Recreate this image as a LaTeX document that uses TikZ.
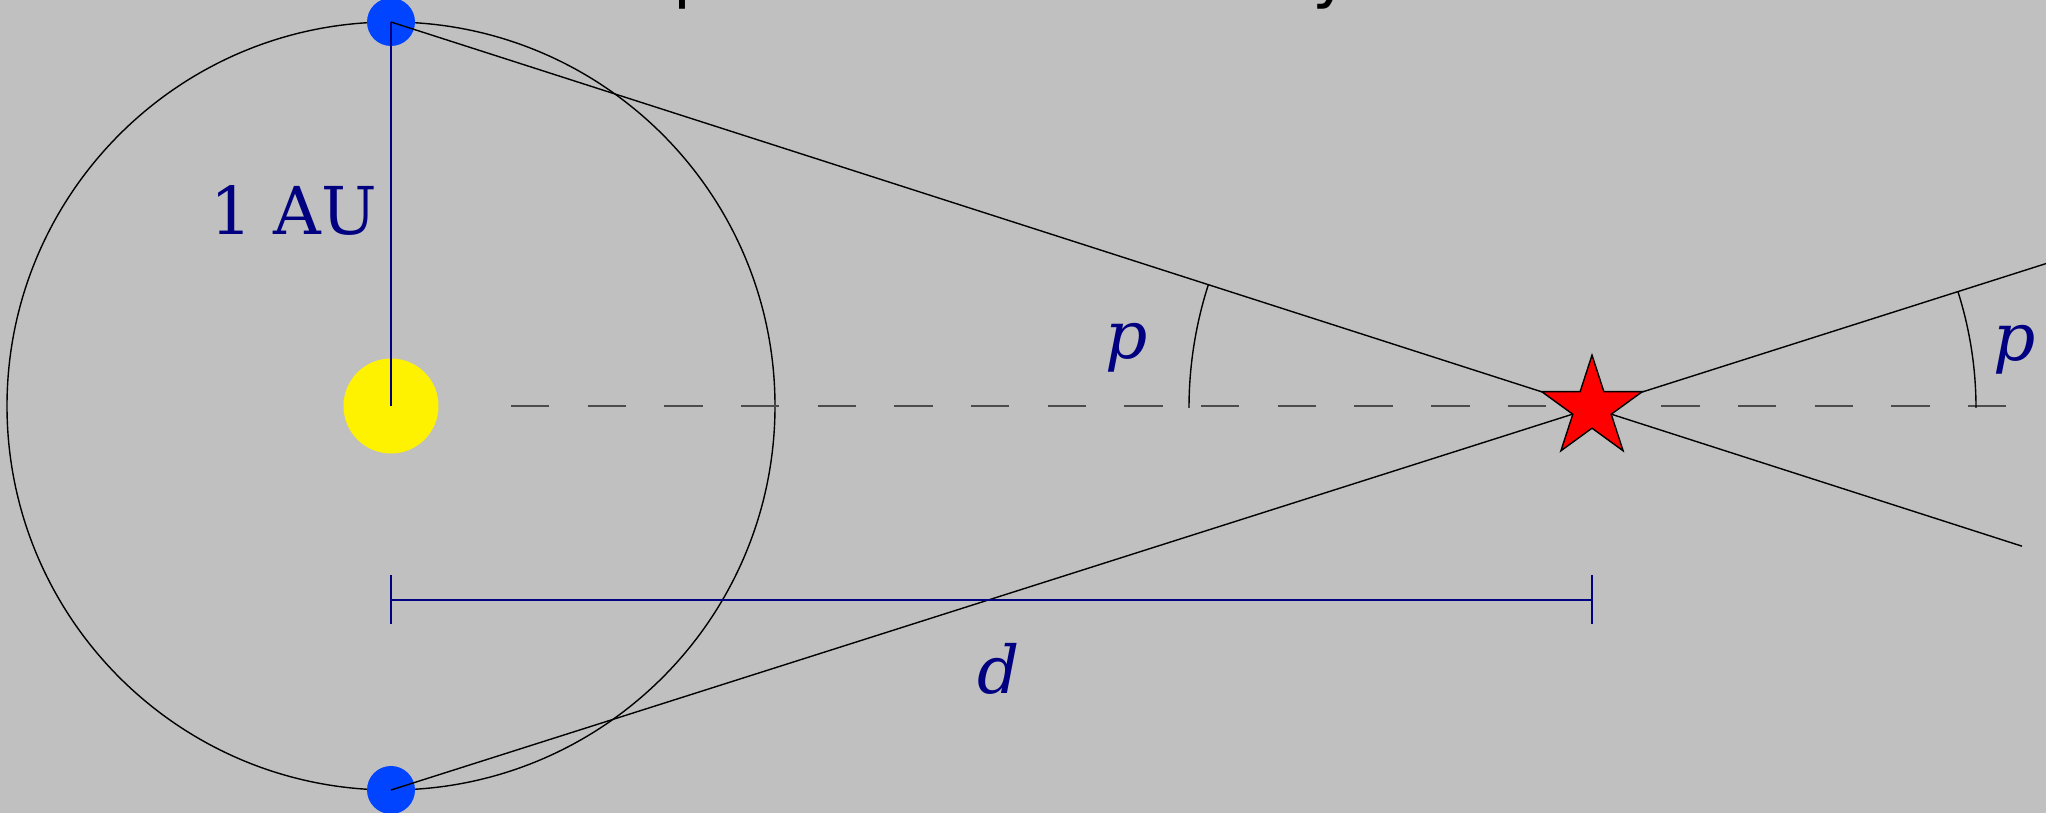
\documentclass[tikz,border=0pt]{standalone}
\usepackage{fontspec}
\newfontfamily\lblfont{DejaVu Serif}
\newfontfamily\titlefont{DejaVu Sans}
\usetikzlibrary{calc}
\definecolor{bgc}{RGB}{192,192,192}
\definecolor{earthc}{RGB}{0,68,255}
\definecolor{navyc}{RGB}{0,0,128}
\begin{document}
\begin{tikzpicture}[x=0.5pt,y=0.5pt,
  thinline/.style={draw=black,line width=0.7pt},
  earth/.style={circle,fill=earthc,minimum size=24pt,inner sep=0pt},
  sunstyle/.style={circle,fill=yellow,minimum size=47.5pt,inner sep=0pt},
  axisline/.style={draw=black!70,line width=1pt,dash pattern=on 19.17pt off 19.17pt},
  dimline/.style={draw=navyc,line width=0.75pt},
  starstyle/.style={fill=red,draw=black,line width=0.7pt,line join=miter},
  lbl/.style={text=navyc,font=\lblfont\fontsize{33}{40}\selectfont,inner sep=0pt,anchor=base},
  mathlbl/.style={text=navyc,font=\lblfont\itshape\fontsize{33}{40}\selectfont,inner sep=0pt,anchor=base},
  titleglyph/.style={text=black,font=\titlefont\fontsize{33}{40}\selectfont,inner sep=0pt,anchor=base west}
]
\useasboundingbox (0,0) rectangle (2046,813);
\fill[bgc] (0,0) rectangle (2046,813);
\clip (0,0) rectangle (2046,813);

% positions
\coordinate (sunc) at (391,407);
\coordinate (star) at (1592,405);
\coordinate (a0) at (511,407);
\coordinate (a1) at (2007,407);
\coordinate (d0) at (391,213);
\coordinate (d1) at (1592,213);

% orbit
\draw[thinline] (sunc) circle[radius=384];

% earths and sun
\node[earth] (e1) at (391,791) {};
\node[earth] (e2) at (391,23) {};
\node[sunstyle] (sun) at (sunc) {};

% dashed axis
\draw[axisline] (a0) -- (a1);

% 1 AU radius
\draw[dimline] (e1.center) -- (sun.center);

% lines of sight
\draw[thinline] (e1.center) -- ($(e1.center)!1.358!(star)$);
\draw[thinline] (e2.center) -- ($(e2.center)!1.42!(star)$);

% angle arcs
\draw[thinline] ($(star)+(180:403)$) arc[start angle=180,end angle=162.18,radius=403];
\draw[thinline] ($(star)+(0:384)$) arc[start angle=0,end angle=17.64,radius=384];

% star
\draw[starstyle] ($(star)+(90:52.9)$) -- ($(star)+(126:20.2)$)
  -- ($(star)+(162:52.9)$) -- ($(star)+(198:20.2)$)
  -- ($(star)+(234:52.9)$) -- ($(star)+(270:20.2)$)
  -- ($(star)+(306:52.9)$) -- ($(star)+(342:20.2)$)
  -- ($(star)+(18:52.9)$) -- ($(star)+(54:20.2)$) -- cycle;

% distance bar
\draw[dimline] (d0) -- (d1);
\draw[dimline] ($(d0)+(0,25)$) -- ($(d0)+(0,-24)$);
\draw[dimline] ($(d1)+(0,25)$) -- ($(d1)+(0,-24)$);

% labels
\node[lbl] (au) at (294,578) {1 AU};
\node[mathlbl] (p1) at (1127,454) {p};
\node[mathlbl] (p2) at (2015,452) {p};
\node[mathlbl] (dl) at (999,119) {d};

% title fragments cut off at the top edge
\node[titleglyph] (t1) at (673,817) {p};
\node[titleglyph] (t2) at (1312,817) {y};
\end{tikzpicture}
\end{document}
